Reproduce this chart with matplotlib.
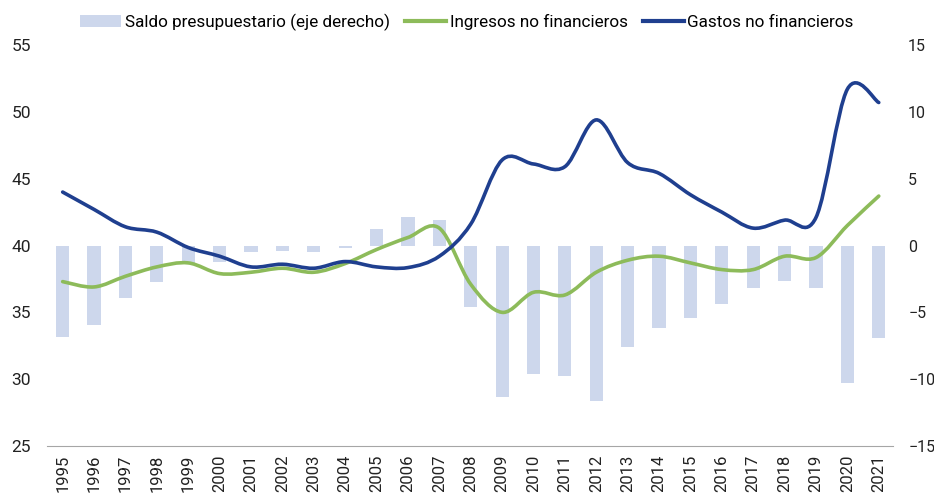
import matplotlib
matplotlib.use("Agg")
import matplotlib.pyplot as plt
from matplotlib.path import Path
from matplotlib.patches import PathPatch
import numpy as np

plt.rcParams['font.family'] = ['Roboto', 'DejaVu Sans']

years = list(range(1995, 2022))

# saldo presupuestario (% PIB, eje derecho)
saldo = [-6.85, -5.95, -3.9, -2.7, -1.35, -1.25, -0.5, -0.4, -0.45, -0.15,
         1.25, 2.1, 1.9, -4.6, -11.35, -9.6, -9.8, -11.6, -7.6, -6.2,
         -5.4, -4.4, -3.2, -2.65, -3.15, -10.3, -6.9]

ingresos = [37.3, 36.9, 37.7, 38.4, 38.7, 37.9, 38.0, 38.3, 38.0, 38.65,
            39.7, 40.6, 41.3, 37.1, 35.0, 36.5, 36.3, 38.0, 38.9, 39.2,
            38.7, 38.2, 38.2, 39.2, 39.1, 41.5, 43.7]

gastos = [44.0, 42.7, 41.4, 41.0, 39.85, 39.2, 38.4, 38.6, 38.3, 38.8,
          38.4, 38.35, 39.2, 41.6, 46.4, 46.1, 45.9, 49.4, 46.2, 45.4,
          43.8, 42.5, 41.3, 41.9, 42.1, 51.7, 50.7]

c_bar = "#cdd7ec"
c_green = "#8dbb5a"
c_navy = "#1f3f8f"


def smooth_path(xs, ys, tension=1 / 6):
    # bezier through the points, like the "smoothed line" of a spreadsheet
    pts = np.column_stack([xs, ys]).astype(float)
    verts = [pts[0]]
    codes = [Path.MOVETO]
    n = len(pts)
    for i in range(n - 1):
        p0 = pts[i - 1] if i > 0 else pts[i]
        p1 = pts[i]
        p2 = pts[i + 1]
        p3 = pts[i + 2] if i + 2 < n else pts[i + 1]
        c1 = p1 + (p2 - p0) * tension
        c2 = p2 - (p3 - p1) * tension
        verts += [c1, c2, p2]
        codes += [Path.CURVE4] * 3
    return Path(verts, codes)


fig = plt.figure(figsize=(9.34, 4.95), dpi=100)
ax = fig.add_axes([0.0503, 0.099, 0.9057, 0.81])
ax2 = ax.twinx()

x = np.arange(len(years))

ax2.bar(x, saldo, width=0.42, color=c_bar, zorder=1,
        label="Saldo presupuestario (eje derecho)")

ax.set_zorder(ax2.get_zorder() + 1)
ax.patch.set_visible(False)

ax.add_patch(PathPatch(smooth_path(x, ingresos), fill=False,
                       edgecolor=c_green, lw=2.6, capstyle='round'))
ax.add_patch(PathPatch(smooth_path(x, gastos), fill=False,
                       edgecolor=c_navy, lw=2.6, capstyle='round'))
ax.plot([], [], color=c_green, lw=3, label="Ingresos no financieros")
ax.plot([], [], color=c_navy, lw=3, label="Gastos no financieros")

ax.set_xlim(-0.5, len(years) - 0.55)
ax.set_ylim(25, 55)
ax2.set_ylim(-15, 15)
ax.set_yticks(range(25, 56, 5))
ax2.set_yticks(range(-15, 16, 5))
ax.set_xticks(x)
ax.set_xticklabels(years, rotation=90)

for a in (ax, ax2):
    for s in ("top", "right", "left"):
        a.spines[s].set_visible(False)
    a.tick_params(length=0, labelsize=12.5, colors="#222222")
ax2.spines["bottom"].set_visible(False)
ax.spines["bottom"].set_color("#a6a6a6")
ax.tick_params(axis="y", pad=11.5)
ax2.tick_params(axis="y", pad=11, labelsize=11.5)
ax.tick_params(axis="x", pad=6, labelsize=12)

h1, l1 = ax2.get_legend_handles_labels()
h2, l2 = ax.get_legend_handles_labels()
fig.legend(h1 + h2, l1 + l2, loc="upper center", bbox_to_anchor=(0.5, 1.003),
           ncol=3, frameon=False, fontsize=12.3, handlelength=2.4,
           handletextpad=0.2, columnspacing=0.9)

fig.savefig("out.png", dpi=100)
